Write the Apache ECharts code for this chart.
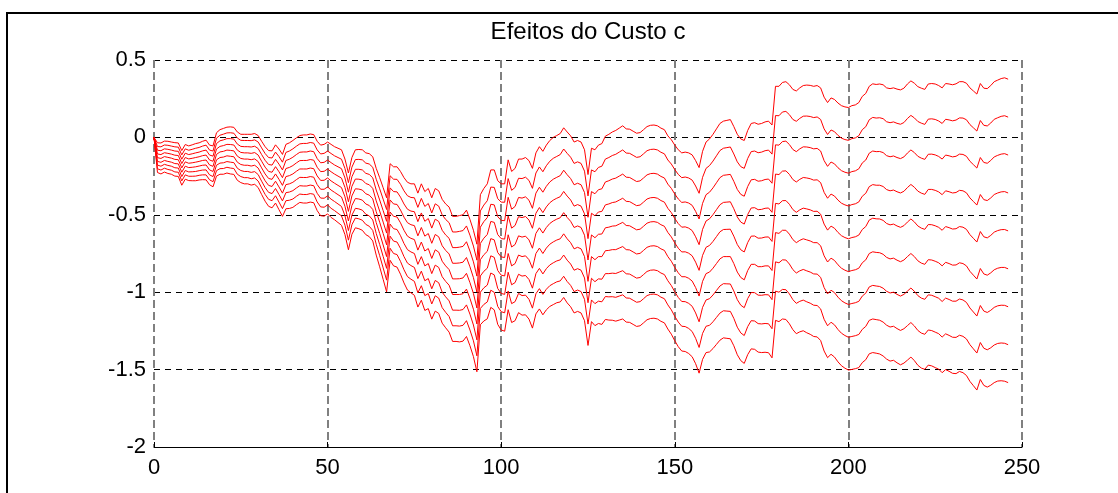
<!DOCTYPE html>
<html>
<head>
<meta charset="utf-8">
<title>Efeitos do Custo c</title>
<script src="https://cdn.jsdelivr.net/npm/echarts@6/dist/echarts.min.js"></script>
<style>
  html, body { margin: 0; padding: 0; background: #fff; }
  #chart { width: 1118px; height: 493px; }
</style>
</head>
<body>
<div id="chart"></div>
<script>
// linha de cima (menor custo), um valor por periodo 0..246
var topLine = [
  0, -0.035, -0.036, -0.024, -0.025, -0.03, -0.034, -0.036, -0.085, -0.046,
  -0.055, -0.048, -0.04, -0.035, -0.025, -0.018, -0.05, -0.055, 0.03, 0.05,
  0.058, 0.066, 0.068, 0.065, 0.035, 0.02, 0.02, 0.02, 0.02, 0.025,
  0.012, -0.025, -0.06, -0.085, -0.087, -0.048, -0.075, -0.11, -0.045, -0.035,
  -0.02, -0.003, 0.012, 0.016, 0.016, 0.022, 0.018, -0.025, -0.05, -0.045,
  -0.03, -0.045, -0.06, -0.07, -0.08, -0.14, -0.23, -0.13, -0.08, -0.078,
  -0.08, -0.1, -0.105, -0.125, -0.2, -0.26, -0.325, -0.39, -0.17, -0.19,
  -0.19, -0.22, -0.26, -0.29, -0.3, -0.3, -0.36, -0.3, -0.35, -0.33,
  -0.39, -0.33, -0.345, -0.4, -0.43, -0.45, -0.51, -0.51, -0.505, -0.5,
  -0.47, -0.53, -0.6, -0.69, -0.37, -0.33, -0.3, -0.21, -0.21, -0.28,
  -0.3, -0.3, -0.145, -0.22, -0.2, -0.14, -0.14, -0.13, -0.15, -0.2,
  -0.1, -0.06, -0.09, -0.05, -0.02, 0.0, 0.012, 0.025, 0.062, 0.035,
  0.01, -0.03, -0.02, -0.03, -0.08, -0.24, -0.07, -0.08, -0.05, -0.04,
  0.008, 0.02, 0.035, 0.045, 0.06, 0.075, 0.055, 0.053, 0.04, 0.027,
  0.031, 0.05, 0.07, 0.078, 0.08, 0.075, 0.06, 0.05, 0.01, -0.015,
  -0.05, -0.08, -0.1, -0.095, -0.1, -0.113, -0.15, -0.195, -0.09, -0.03,
  -0.01, 0.02, 0.055, 0.09, 0.105, 0.11, 0.115, 0.07, 0.02, -0.01,
  -0.02, 0.045, 0.09, 0.095, 0.085, 0.09, 0.1, 0.105, 0.08, 0.33,
  0.33, 0.355, 0.36, 0.34, 0.31, 0.3, 0.32, 0.335, 0.338, 0.336,
  0.33, 0.335, 0.32, 0.26, 0.225, 0.255, 0.245, 0.222, 0.205, 0.197,
  0.193, 0.205, 0.21, 0.225, 0.265, 0.284, 0.33, 0.346, 0.342, 0.345,
  0.34, 0.32, 0.315, 0.32, 0.312, 0.307, 0.318, 0.345, 0.365, 0.35,
  0.328, 0.318, 0.31, 0.345, 0.348, 0.345, 0.335, 0.32, 0.348, 0.345,
  0.34, 0.346, 0.36, 0.36, 0.35, 0.32, 0.30, 0.28, 0.348, 0.318,
  0.315, 0.335, 0.36, 0.37, 0.38, 0.385, 0.376
];

// distancia vertical entre duas linhas vizinhas, lida em cada periodo
var lineGap = [
  0, 0.024, 0.025, 0.025, 0.026, 0.026, 0.027, 0.027, 0.028, 0.028,
  0.028, 0.029, 0.030, 0.030, 0.031, 0.032, 0.032, 0.033, 0.035, 0.036,
  0.037, 0.037, 0.038, 0.038, 0.039, 0.039, 0.040, 0.040, 0.041, 0.041,
  0.042, 0.043, 0.044, 0.045, 0.046, 0.047, 0.049, 0.050, 0.052, 0.053,
  0.054, 0.054, 0.054, 0.055, 0.055, 0.055, 0.055, 0.056, 0.057, 0.058,
  0.058, 0.059, 0.059, 0.060, 0.061, 0.061, 0.062, 0.062, 0.063, 0.064,
  0.065, 0.066, 0.067, 0.068, 0.070, 0.072, 0.074, 0.076, 0.078, 0.080,
  0.081, 0.083, 0.085, 0.087, 0.088, 0.090, 0.092, 0.094, 0.096, 0.097,
  0.098, 0.099, 0.099, 0.100, 0.100, 0.101, 0.101, 0.101, 0.102, 0.102,
  0.102, 0.102, 0.102, 0.103, 0.105, 0.107, 0.109, 0.111, 0.113, 0.116,
  0.118, 0.119, 0.121, 0.122, 0.123, 0.124, 0.126, 0.127, 0.128, 0.129,
  0.130, 0.131, 0.132, 0.133, 0.134, 0.135, 0.135, 0.136, 0.137, 0.138,
  0.138, 0.138, 0.138, 0.138, 0.138, 0.138, 0.140, 0.142, 0.144, 0.146,
  0.148, 0.150, 0.152, 0.154, 0.155, 0.156, 0.156, 0.156, 0.156, 0.156,
  0.156, 0.156, 0.156, 0.156, 0.156, 0.156, 0.156, 0.156, 0.156, 0.157,
  0.158, 0.159, 0.160, 0.161, 0.162, 0.163, 0.164, 0.166, 0.168, 0.170,
  0.172, 0.173, 0.174, 0.175, 0.175, 0.176, 0.177, 0.177, 0.178, 0.179,
  0.180, 0.181, 0.182, 0.183, 0.184, 0.185, 0.186, 0.187, 0.188, 0.189,
  0.190, 0.191, 0.192, 0.193, 0.194, 0.196, 0.197, 0.198, 0.200, 0.201,
  0.202, 0.203, 0.204, 0.205, 0.206, 0.207, 0.208, 0.209, 0.210, 0.211,
  0.212, 0.213, 0.213, 0.214, 0.215, 0.215, 0.216, 0.217, 0.217, 0.218,
  0.219, 0.219, 0.220, 0.220, 0.221, 0.222, 0.222, 0.223, 0.223, 0.224,
  0.225, 0.226, 0.226, 0.227, 0.228, 0.229, 0.229, 0.230, 0.231, 0.232,
  0.233, 0.234, 0.234, 0.235, 0.236, 0.237, 0.238, 0.239, 0.239, 0.240,
  0.241, 0.242, 0.243, 0.243, 0.244, 0.245, 0.245
];

var nLines = 9;
var xTicks = [0, 50, 100, 150, 200, 250];
var yTicks = [-2, -1.5, -1, -0.5, 0, 0.5];

var seriesList = [];
for (var k = 0; k < nLines; k++) {
  var pts = [];
  for (var i = 0; i < topLine.length; i++) {
    pts.push([i, +(topLine[i] - k * lineGap[i]).toFixed(4)]);
  }
  seriesList.push({
    type: 'line',
    data: pts,
    showSymbol: false,
    symbol: 'none',
    lineStyle: { color: '#ff0000', width: 1 },
    silent: true
  });
}

var font = 'Liberation Sans, Arial, Helvetica, sans-serif';

var chart = echarts.init(document.getElementById('chart'));
chart.setOption({
  animation: false,
  backgroundColor: '#fff',
  grid: { left: 154, right: 96, top: 60, bottom: 46 },
  xAxis: {
    type: 'value',
    min: xTicks[0],
    max: xTicks[xTicks.length - 1],
    interval: 50,
    axisLine: { show: true, onZero: false, lineStyle: { color: '#000', width: 1 } },
    axisTick: { show: true, inside: true, length: 5, lineStyle: { color: '#000' } },
    axisLabel: { color: '#000', fontSize: 22, fontFamily: font, margin: 10 },
    splitLine: { show: true, lineStyle: { color: '#808080', width: 2, type: [8, 4] } }
  },
  yAxis: {
    type: 'value',
    min: yTicks[0],
    max: yTicks[yTicks.length - 1],
    interval: 0.5,
    axisLine: { show: false },
    axisTick: { show: false },
    axisLabel: { color: '#000', fontSize: 22, fontFamily: font, margin: 8 },
    splitLine: { show: true, lineStyle: { color: '#000', width: 1, type: [6, 5] } }
  },
  series: seriesList,
  graphic: [
    {
      type: 'rect',
      shape: { x: 7, y: 13, width: 1200, height: 600 },
      style: { fill: 'none', stroke: '#000', lineWidth: 2 },
      silent: true
    },
    {
      type: 'text',
      x: 588,
      y: 32,
      style: {
        text: 'Efeitos do Custo c',
        font: '24px ' + font,
        fill: '#000',
        textAlign: 'center',
        textVerticalAlign: 'middle'
      },
      silent: true
    }
  ]
});
</script>
</body>
</html>
